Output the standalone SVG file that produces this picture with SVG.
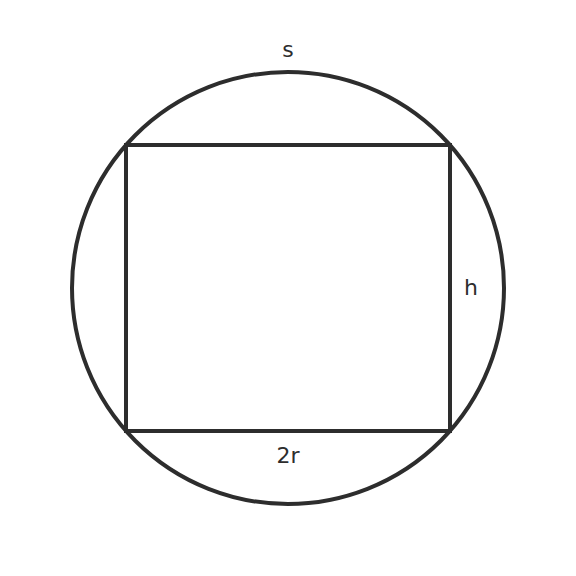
<svg xmlns="http://www.w3.org/2000/svg" width="576" height="576" viewBox="0 0 576 576">
<style>
.shape{fill:none;stroke:#2d2d2d;stroke-width:4}
.lbl{font-family:"DejaVu Sans",sans-serif;font-size:22px;fill:#2d2d2d;text-anchor:middle;dominant-baseline:central}
</style>
<rect width="576" height="576" fill="#ffffff"/>
<g id="circle"><circle class="shape" cx="288" cy="288" r="216"/></g>
<g id="rectangle"><rect class="shape" x="126" y="145" width="324" height="286"/></g>
<g id="labels">
<text class="lbl" x="288" y="49">s</text>
<text class="lbl" x="471" y="287">h</text>
<text class="lbl" x="288" y="455">2r</text>
</g>
</svg>
